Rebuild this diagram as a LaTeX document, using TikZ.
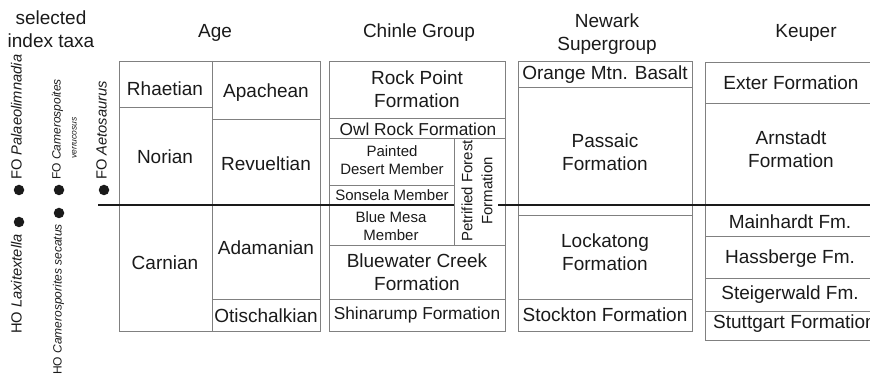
\documentclass[tikz,border=0pt]{standalone}
\usepackage{fontspec}
\setmainfont{Liberation Sans}
\definecolor{bord}{HTML}{808080}
\definecolor{ink}{HTML}{1A1A1A}
\begin{document}
\begin{tikzpicture}[x=1pt,y=-1pt,
  box/.style={draw=bord, line width=0.9pt},
  lbl/.style={font=\fontsize{19}{22.5}\selectfont, align=center, inner sep=0pt, text=ink},
  lblm/.style={font=\fontsize{17.3}{21}\selectfont, align=center, inner sep=0pt, text=ink},
  lbls/.style={font=\fontsize{15}{18}\selectfont, align=center, inner sep=0pt, text=ink},
  taxa/.style={font=\fontsize{14.7}{17}\selectfont, inner sep=0pt, rotate=90, text=ink},
  taxas/.style={font=\fontsize{12}{14}\selectfont, inner sep=0pt, rotate=90, text=ink},
  taxat/.style={font=\fontsize{8.5}{10}\selectfont, inner sep=0pt, rotate=90, text=ink},
  taxdot/.style={circle, fill=ink, inner sep=0pt, minimum size=10.5pt},
  bound/.style={line width=2pt, draw=ink}
]
\useasboundingbox (0,0) rectangle (870,382);
\clip (0,0) rectangle (870,382);

% headers
\node[lbl] (hsel) at (51,29) {selected\\index taxa};
\node[lbl] (hage) at (215,33) {Age};
\node[lbl] (hchi) at (419,33) {Chinle Group};
\node[lbl] (hnew) at (607,34) {Newark\\Supergroup};
\node[lbl] (hkeu) at (806,33) {Keuper};

% index taxa
\node[taxdot] (d1) at (19,190) {};
\node[taxa, anchor=mid west] (t1) at (19,180) {FO \textit{Palaeolimnadia}};
\node[taxdot] (d2) at (19,222) {};
\node[taxa, anchor=mid east] (t2) at (19,234) {HO \textit{Laxitextella}};
\node[taxdot] (d3) at (59,190) {};
\node[taxas, anchor=mid west] (t3) at (58,180) {FO \textit{Camerospoites}};
\node[taxat, anchor=mid west] (t3b) at (74,159) {\textit{verrucosus}};
\node[taxdot] (d4) at (59,213) {};
\node[taxas, anchor=mid east] (t4) at (59,224) {HO \textit{Camerosporites secatus}};
\node[taxdot] (d5) at (104,190) {};
\node[taxa, anchor=mid west] (t5) at (104,180) {FO \textit{Aetosaurus}};

% Age table
\draw[box] (119,61) rectangle (320,331);
\draw[box] (212,61) -- (212,331);
\draw[box] (119,107) -- (212,107);
\draw[box] (212,119) -- (320,119);
\draw[box] (212,299) -- (320,299);
\node[lbl] (rha) at (165,89) {Rhaetian};
\node[lbl] (nor) at (165,157) {Norian};
\node[lbl] (car) at (165,263) {Carnian};
\node[lbl] (apa) at (266,93) {Apachean};
\node[lbl] (rev) at (266,164) {Revueltian};
\node[lbl] (ada) at (266,248) {Adamanian};
\node[lbl] (oti) at (266,316) {Otischalkian};

% Chinle Group
\draw[box] (329,61) rectangle (505,331);
\draw[box] (329,118) -- (505,118);
\draw[box] (329,138) -- (505,138);
\draw[box] (454,138) -- (454,245);
\draw[box] (329,185) -- (454,185);
\draw[box] (329,245) -- (505,245);
\draw[box] (329,299) -- (505,299);
\node[lbl] (rpf) at (417,89) {Rock Point\\Formation};
\node[lblm] (owl) at (418,129) {Owl Rock Formation};
\node[lbls] (pdm) at (392,160) {Painted\\Desert Member};
\node[lbls] (son) at (392,195) {Sonsela Member};
\node[lbls] (bmm) at (391,226) {Blue Mesa\\Member};
\node[lbls, rotate=90, font=\fontsize{15}{20}\selectfont] (pff) at (477,191) {Petrified Forest\\Formation};
\node[lbl] (bwc) at (417,272) {Bluewater Creek\\Formation};
\node[lblm] (shi) at (417,315) {Shinarump Formation};

% Newark Supergroup
\draw[box] (518,61) rectangle (692,331);
\draw[box] (518,87) -- (692,87);
\draw[box] (518,215) -- (692,215);
\draw[box] (518,299) -- (692,299);
\node[lbl] (omb) at (605,75) {Orange Mtn. Basalt};
\node[lbl] (pas) at (605,152) {Passaic\\Formation};
\node[lbl] (loc) at (605,252) {Lockatong\\Formation};
\node[lbl] (sto) at (605,315) {Stockton Formation};

% Keuper
\draw[box] (705,62) rectangle (878,340);
\draw[box] (705,103) -- (878,103);
\draw[box] (705,236) -- (878,236);
\draw[box] (705,278) -- (878,278);
\draw[box] (705,311) -- (878,311);
\node[lbl] (ext) at (791,83) {Exter Formation};
\node[lbl] (arn) at (791,149) {Arnstadt\\Formation};
\node[lbl] (mai) at (790,222) {Mainhardt Fm.};
\node[lbl] (has) at (790,259) {Hassberge Fm.};
\node[lbl] (ste) at (790,295) {Steigerwald Fm.};
\node[lbl, anchor=west] (stu) at (713,324) {Stuttgart Formation};

% Triassic boundary line
\coordinate (bl0) at (98,205);
\coordinate (bl1) at (454,205);
\coordinate (bl2) at (498,205);
\coordinate (bl3) at (872,205);
\draw[bound] (bl0) -- (bl1);
\draw[bound] (bl2) -- (bl3);
\end{tikzpicture}
\end{document}
